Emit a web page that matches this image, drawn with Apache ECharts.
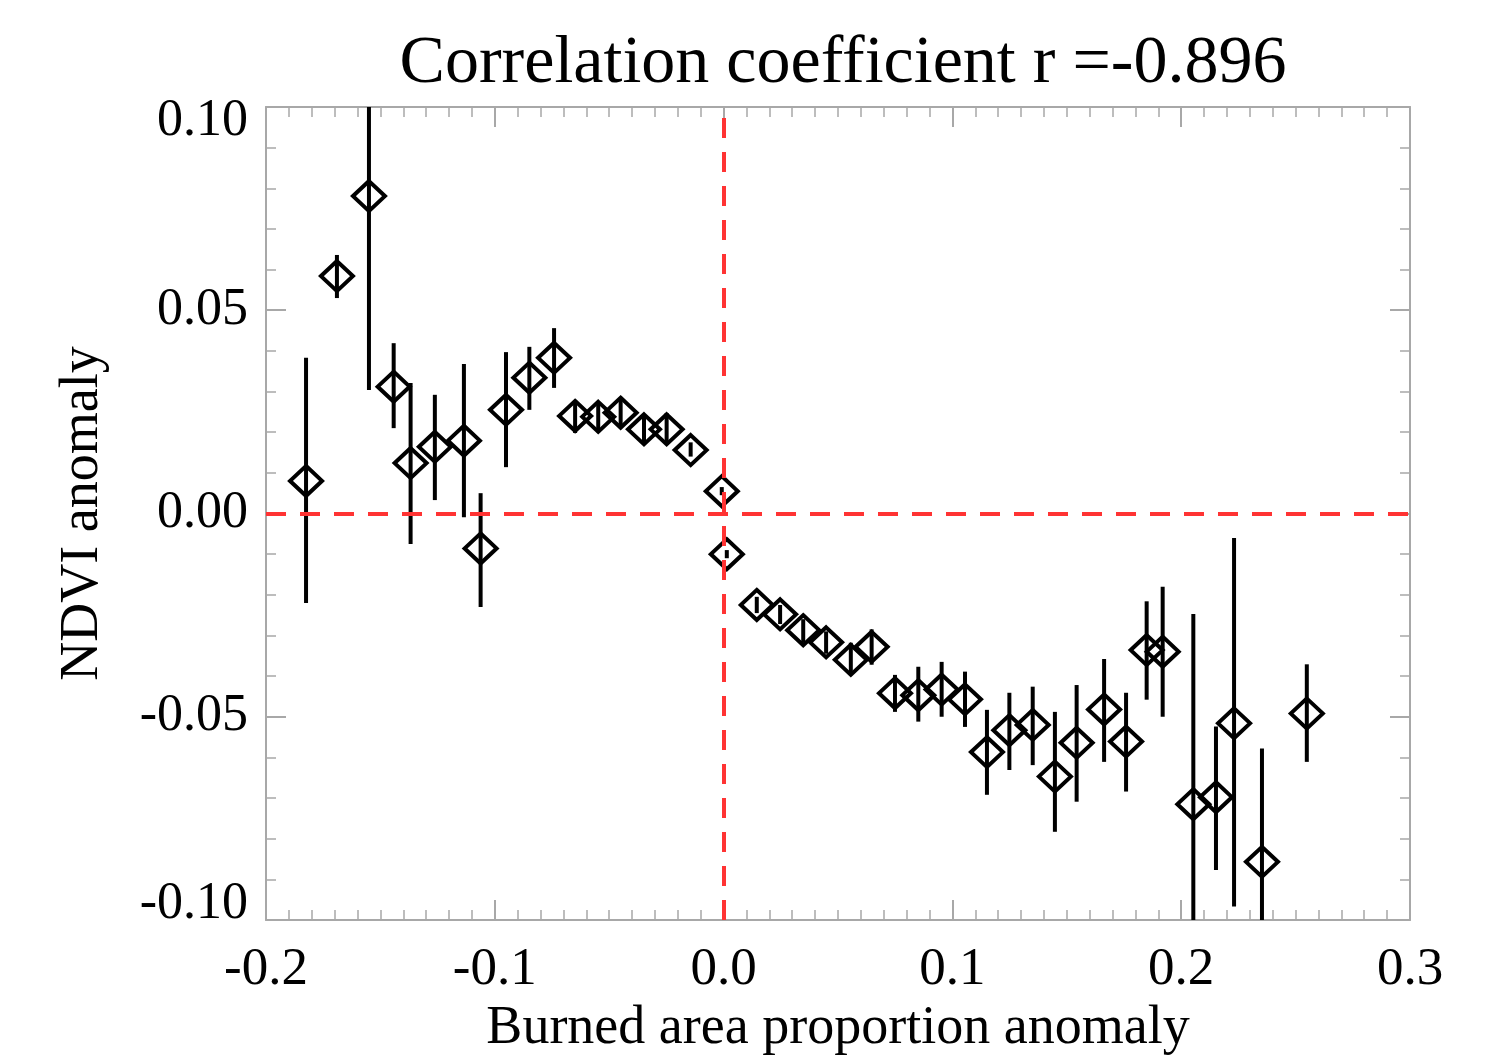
<!DOCTYPE html>
<html>
<head>
<meta charset="utf-8">
<script src="https://cdn.jsdelivr.net/npm/echarts@6/dist/echarts.min.js"></script>
<style>
  html, body { margin: 0; padding: 0; background: #fff; }
  #chart { width: 1496px; height: 1062px; }
</style>
</head>
<body>
<div id="chart"></div>
<script>
// burned area anomaly (x), NDVI anomaly (y) and error bar ends
const xVals = [-0.1825, -0.169, -0.155, -0.1442, -0.1368, -0.1262, -0.1135, -0.1062, -0.0951, -0.0849,
  -0.0741, -0.0649, -0.0548, -0.0450, -0.0348, -0.0249, -0.0144, -0.0008, 0.0014, 0.0145,
  0.0247, 0.0348, 0.0448, 0.0556, 0.0647, 0.0749, 0.0851, 0.0953, 0.1055, 0.1151,
  0.1249, 0.1351, 0.1448, 0.1543, 0.1663, 0.1759, 0.1849, 0.1919, 0.2053, 0.2152,
  0.2231, 0.2353, 0.2549];
const yVals = [0.0080, 0.0584, 0.0781, 0.0312, 0.0124, 0.0164, 0.0179, -0.0086, 0.0255, 0.0334,
  0.0383, 0.0240, 0.0238, 0.0248, 0.0207, 0.0207, 0.0156, 0.0055, -0.0100, -0.0225,
  -0.0248, -0.0287, -0.0317, -0.0360, -0.0328, -0.0442, -0.0447, -0.0433, -0.0457, -0.0587,
  -0.0533, -0.0520, -0.0647, -0.0564, -0.0482, -0.0561, -0.0336, -0.0340, -0.0715, -0.0698,
  -0.0516, -0.0857, -0.0492];
const yHigh = [0.0383, 0.0636, 0.1258, 0.0419, 0.0321, 0.0292, 0.0368, 0.0050, 0.0397, 0.0410,
  0.0456, 0.0275, 0.0272, 0.0284, 0.0242, 0.0247, 0.0175, 0.0065, -0.0090, -0.0205,
  -0.0225, -0.0260, -0.0290, -0.0318, -0.0285, -0.0397, -0.0377, -0.0365, -0.0389, -0.0483,
  -0.0441, -0.0426, -0.0488, -0.0422, -0.0358, -0.0441, -0.0216, -0.0180, -0.0247, -0.0524,
  -0.0060, -0.0578, -0.0371];
const yLow = [-0.0220, 0.0530, 0.0304, 0.0210, -0.0075, 0.0033, -0.0009, -0.0230, 0.0114, 0.0255,
  0.0309, 0.0198, 0.0200, 0.0213, 0.0169, 0.0173, 0.0140, 0.0045, -0.0110, -0.0245,
  -0.0272, -0.0318, -0.0345, -0.0397, -0.0372, -0.0488, -0.0512, -0.0500, -0.0525, -0.0692,
  -0.0631, -0.0619, -0.0783, -0.0709, -0.0611, -0.0684, -0.0458, -0.0500, -0.1183, -0.0877,
  -0.0967, -0.1136, -0.0611];
const xTicks = { min: -0.2, max: 0.3, step: 0.1 };
const yTicks = { min: -0.1, max: 0.1, step: 0.05 };

const points = xVals.map((x, i) => [x, yVals[i]]);
const bars = xVals.map((x, i) => [x, yLow[i], yHigh[i]]);

const myChart = echarts.init(document.getElementById('chart'));

const axisGray = '#a8a8a8';
const serif = '"Liberation Serif", "Times New Roman", serif';

// shared look for the mirrored axes
const xBase = {
  type: 'value',
  min: xTicks.min,
  max: xTicks.max,
  interval: xTicks.step,
  axisLine: { onZero: false, lineStyle: { color: axisGray, width: 2 } },
  axisTick: { inside: true, length: 20, lineStyle: { color: axisGray, width: 2 } },
  minorTick: { show: true, splitNumber: 10, length: 10, lineStyle: { color: axisGray, width: 1.5 } },
  splitLine: { show: false },
};
const yBase = {
  type: 'value',
  min: yTicks.min,
  max: yTicks.max,
  interval: yTicks.step,
  axisLine: { onZero: false, lineStyle: { color: axisGray, width: 2 } },
  axisTick: { inside: true, length: 20, lineStyle: { color: axisGray, width: 2 } },
  minorTick: { show: true, splitNumber: 5, length: 10, lineStyle: { color: axisGray, width: 1.5 } },
  splitLine: { show: false },
};

const option = {
  animation: false,
  title: {
    text: 'Correlation coefficient r =-0.896',
    left: 838,
    top: 25,
    textAlign: 'center',
    textStyle: { fontFamily: serif, fontSize: 68, fontWeight: 'normal', color: '#000' },
  },
  grid: { left: 266, right: 86, top: 107, bottom: 142 },
  xAxis: [
    Object.assign({}, xBase, {
      position: 'bottom',
      name: 'Burned area proportion anomaly',
      nameLocation: 'middle',
      nameGap: 82,
      nameTextStyle: { fontFamily: serif, fontSize: 54, color: '#000' },
      axisLabel: {
        fontFamily: serif, fontSize: 53, color: '#000', margin: 24,
        formatter: (v) => v.toFixed(1),
      },
    }),
    Object.assign({}, xBase, { position: 'top', axisLabel: { show: false } }),
  ],
  yAxis: [
    Object.assign({}, yBase, {
      position: 'left',
      name: 'NDVI anomaly',
      nameLocation: 'middle',
      nameGap: 156,
      nameTextStyle: { fontFamily: serif, fontSize: 54, color: '#000' },
      axisLabel: {
        fontFamily: serif, fontSize: 52, color: '#000', margin: 18,
        formatter: function (v) {
          const s = v.toFixed(2);
          if (v >= yTicks.max - 1e-9) return '{top|' + s + '}';
          if (v <= yTicks.min + 1e-9) return '{bot|' + s + '}';
          return s;
        },
        rich: {
          top: { fontFamily: serif, fontSize: 52, color: '#000', padding: [28, 0, 0, 0] },
          bot: { fontFamily: serif, fontSize: 52, color: '#000', padding: [0, 0, 32, 0] },
        },
      },
    }),
    Object.assign({}, yBase, { position: 'right', axisLabel: { show: false } }),
  ],
  series: [
    {
      // red zero lines
      type: 'line',
      data: [],
      z: 1,
      markLine: {
        silent: true,
        symbol: 'none',
        label: { show: false },
        lineStyle: { color: '#ff3333', width: 4, type: [20, 14] },
        data: [{ xAxis: 0 }, { yAxis: 0 }],
      },
    },
    {
      // error bars
      type: 'custom',
      z: 2,
      data: bars,
      renderItem: function (params, api) {
        const cs = params.coordSys;
        const top = api.coord([api.value(0), api.value(2)]);
        const bot = api.coord([api.value(0), api.value(1)]);
        const y1 = Math.max(cs.y, Math.min(cs.y + cs.height, top[1]));
        const y2 = Math.max(cs.y, Math.min(cs.y + cs.height, bot[1]));
        return {
          type: 'line',
          shape: { x1: top[0], y1: y1, x2: top[0], y2: y2 },
          style: { stroke: '#000', lineWidth: 4 },
        };
      },
    },
    {
      type: 'scatter',
      z: 3,
      data: points,
      symbol: 'diamond',
      symbolSize: [32, 30],
      itemStyle: { color: 'rgba(255,255,255,0)', borderColor: '#000', borderWidth: 4, opacity: 1 },
    },
  ],
};

myChart.setOption(option);
</script>
</body>
</html>
